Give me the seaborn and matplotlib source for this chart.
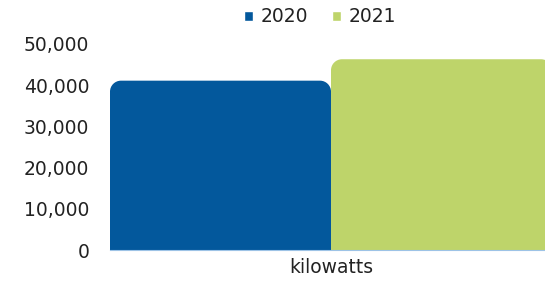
import pandas as pd
import matplotlib
matplotlib.use("Agg")
import matplotlib.pyplot as plt
from matplotlib.path import Path
from matplotlib.patches import PathPatch
import seaborn as sns

# data
categories = ["kilowatts"]
years = ["2020", "2021"]
values_2020 = [41100]
values_2021 = [46300]
colors = ["#03589C", "#BED46A"]

df = pd.DataFrame({
    "unit": categories * 2,
    "year": years[:1] * len(categories) + years[1:] * len(categories),
    "value": values_2020 + values_2021,
})

sns.set_style("white")
plt.rcParams["font.family"] = ["DejaVu Sans"]

fig = plt.figure(figsize=(5.45, 2.83), dpi=100)
ax = fig.add_axes([110 / 545, 1 - 250 / 283, 442 / 545, 206 / 283])

sns.barplot(data=df, x="unit", y="value", hue="year", palette=colors,
            width=1.0, dodge=True, saturation=1, ax=ax, legend=True)

ax.set_xlim(-0.5, 0.5)
ax.set_ylim(0, 50000)
ax.set_yticks(range(0, 50001, 10000))
ax.yaxis.set_major_formatter(matplotlib.ticker.FuncFormatter(lambda v, p: f"{int(v):,}"))
ax.tick_params(axis="y", labelsize=13.5, colors="#222222", length=0, pad=15)
ax.tick_params(axis="x", labelsize=13.5, colors="#222222", length=0, pad=6)
ax.set_xlabel("")
ax.set_ylabel("")
for s in ["top", "right", "left"]:
    ax.spines[s].set_visible(False)
ax.spines["bottom"].set_color("#9DC3E6")
ax.spines["bottom"].set_linewidth(0.8)

# rounded top corners
fig.canvas.draw()
px_x = ax.transData.transform((1, 0))[0] - ax.transData.transform((0, 0))[0]
px_y = ax.transData.transform((0, 1))[1] - ax.transData.transform((0, 0))[1]
r = 11
k = 0.5523
for bar in list(ax.patches):
    x0, y0 = bar.get_x(), bar.get_y()
    w, h = bar.get_width(), bar.get_height()
    if h <= 0:
        continue
    rx, ry = r / px_x, r / px_y
    x1, y1 = x0 + w, y0 + h
    verts = [
        (x0, y0), (x0, y1 - ry),
        (x0, y1 - ry + k * ry), (x0 + rx - k * rx, y1), (x0 + rx, y1),
        (x1 - rx, y1),
        (x1 - rx + k * rx, y1), (x1, y1 - ry + k * ry), (x1, y1 - ry),
        (x1, y0), (x0, y0),
    ]
    codes = [Path.MOVETO, Path.LINETO,
             Path.CURVE4, Path.CURVE4, Path.CURVE4,
             Path.LINETO,
             Path.CURVE4, Path.CURVE4, Path.CURVE4,
             Path.LINETO, Path.CLOSEPOLY]
    patch = PathPatch(Path(verts, codes), facecolor=bar.get_facecolor(),
                      edgecolor="none", zorder=bar.get_zorder())
    bar.set_visible(False)
    ax.add_patch(patch)

handles, labels = ax.get_legend_handles_labels()
ax.legend_.remove()
fig.legend(handles, labels, loc="center", bbox_to_anchor=(320 / 545, 1 - 17 / 283),
           ncol=2, frameon=False, fontsize=13.5, handlelength=0.45, handleheight=0.45,
           handletextpad=0.4, columnspacing=1.3, labelcolor="#222222")

fig.savefig("out.png", dpi=100)
